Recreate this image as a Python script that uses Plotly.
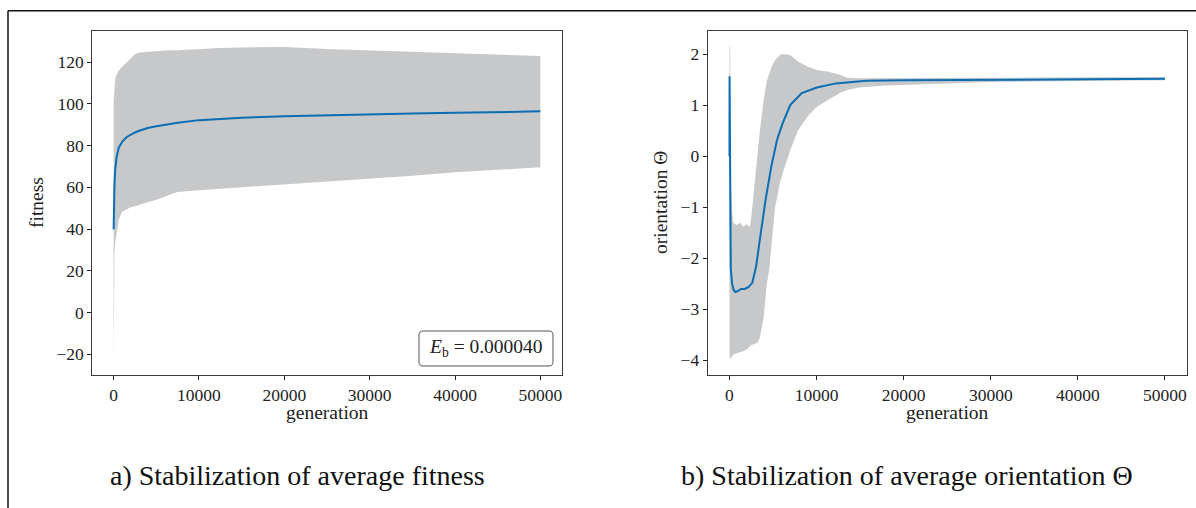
import plotly.graph_objects as go

W, H = 1196, 508

# ---------------- data (a) fitness ----------------
fit_gen = [0, 30, 100, 200, 350, 600, 1000, 1500, 2000, 2500, 3000, 4000, 5000, 6000,
           7500, 10000, 12500, 15000, 20000, 25000, 30000, 35000, 40000, 45000, 50000]
fit_mean = [39.9, 50, 62, 69, 74.5, 79, 81.8, 84, 85.3, 86.3, 87.1, 88.4, 89.3, 90,
            91, 92.2, 92.9, 93.4, 94.1, 94.6, 95, 95.4, 95.7, 96.1, 96.4]
fit_upper = [101, 104, 109, 112.5, 114, 116, 117.8, 119.7, 121.8, 123.8, 124.6, 125, 125.4, 125.5,
             125.7, 126.3, 126.8, 127, 127.2, 126.3, 125.6, 125, 124.4, 123.6, 122.9]
fit_lower = [-22.5, 5, 28, 34, 39, 44.6, 48.3, 49.5, 50.5, 51, 51.5, 52.8, 54, 55.5,
             57.8, 58.6, 59.3, 60, 61.4, 62.6, 64, 65.6, 67.2, 68.5, 69.6]

# ---------------- data (b) orientation ----------------
ori_gen = [0, 10, 150, 300, 500, 700, 1000, 1300, 1750, 2200, 2620, 3060, 3490, 4150, 4800,
           5460, 6110, 6990, 8300, 10040, 12220, 15700, 20070, 28800, 40000, 50000]
ori_mean = [0.0, 1.57, -2.2, -2.5, -2.63, -2.66, -2.64, -2.6, -2.6, -2.56, -2.48, -2.16, -1.63,
            -0.85, -0.2, 0.32, 0.65, 1.01, 1.24, 1.35, 1.43, 1.48, 1.49, 1.50, 1.51, 1.52]
band_gen = [0, 80, 150, 300, 450, 800, 1200, 1600, 2000, 2350, 2500, 2840, 3200, 3490, 3930,
            4250, 4580, 4900, 5240, 5890, 6550, 7000, 7860, 8950, 10040, 11350, 12660, 13530,
            14850, 17900, 24400, 31000, 41900, 50000]
band_upper = [2.15, 2.15, -0.5, -1.1, -1.3, -1.35, -1.3, -1.38, -1.33, -1.38, -1.2, -0.6, 0.0,
              0.5, 1.1, 1.45, 1.63, 1.78, 1.89, 2.0, 2.0, 1.98, 1.86, 1.76, 1.69, 1.66, 1.6,
              1.54, 1.53, 1.53, 1.54, 1.54, 1.55, 1.55]
band_lower = [-3.9, -3.98, -3.98, -3.92, -3.88, -3.86, -3.84, -3.82, -3.78, -3.72, -3.7, -3.68,
              -3.66, -3.55, -3.15, -2.55, -2.2, -1.6, -1.0, -0.45, -0.1, 0.13, 0.5, 0.78, 0.97,
              1.1, 1.24, 1.3, 1.35, 1.39, 1.43, 1.46, 1.48, 1.49]

x_ticks = [0, 10000, 20000, 30000, 40000, 50000]
x_tick_labels = ["0", "10000", "20000", "30000", "40000", "50000"]
fit_ticks = [-20, 0, 20, 40, 60, 80, 100, 120]
fit_tick_labels = ["−20", "0", "20", "40", "60", "80", "100", "120"]
ori_ticks = [-4, -3, -2, -1, 0, 1, 2]
ori_tick_labels = ["−4", "−3", "−2", "−1", "0", "1", "2"]

BAND = "#c7c8ca"
LINE = "#0b6db3"
FONT = "Liberation Serif"

fig = go.Figure()
# (a)
fig.add_trace(go.Scatter(x=fit_gen, y=fit_lower, mode="lines", line=dict(width=0, color=BAND),
                         showlegend=False, hoverinfo="skip", xaxis="x", yaxis="y"))
fig.add_trace(go.Scatter(x=fit_gen, y=fit_upper, mode="lines", line=dict(width=0, color=BAND),
                         fill="tonexty", fillcolor=BAND, showlegend=False, xaxis="x", yaxis="y"))
fig.add_trace(go.Scatter(x=fit_gen, y=fit_mean, mode="lines", line=dict(width=2, color=LINE),
                         showlegend=False, xaxis="x", yaxis="y"))
# (b)
fig.add_trace(go.Scatter(x=band_gen, y=band_lower, mode="lines", line=dict(width=0, color=BAND),
                         showlegend=False, hoverinfo="skip", xaxis="x2", yaxis="y2"))
fig.add_trace(go.Scatter(x=band_gen, y=band_upper, mode="lines", line=dict(width=0, color=BAND),
                         fill="tonexty", fillcolor=BAND, showlegend=False, xaxis="x2", yaxis="y2"))
fig.add_trace(go.Scatter(x=ori_gen, y=ori_mean, mode="lines", line=dict(width=2, color=LINE),
                         showlegend=False, xaxis="x2", yaxis="y2"))

def px_x(p):
    return p / W

def px_y(p):
    return 1 - p / H

axis_common = dict(showgrid=False, zeroline=False, showline=True, mirror=True,
                   linecolor="#3a3a3a", linewidth=1, ticks="outside", ticklen=4,
                   tickcolor="#222", tickwidth=1,
                   tickfont=dict(family=FONT, size=17.5, color="#222"))

fig.update_layout(
    width=W, height=H, margin=dict(l=0, r=0, t=0, b=0),
    paper_bgcolor="white", plot_bgcolor="white",
    xaxis=dict(domain=[px_x(92.3), px_x(561.7)], range=[-2500, 52500], tickvals=x_ticks,
               ticktext=x_tick_labels, anchor="y", **axis_common),
    yaxis=dict(domain=[px_y(375), px_y(31)], range=[-29.9, 134.9], tickvals=fit_ticks,
               ticktext=fit_tick_labels, anchor="x", **axis_common),
    xaxis2=dict(domain=[px_x(707.7), px_x(1186.7)], range=[-2500, 52500], tickvals=x_ticks,
                ticktext=x_tick_labels, anchor="y2", **axis_common),
    yaxis2=dict(domain=[px_y(375), px_y(31)], range=[-4.287, 2.457], tickvals=ori_ticks,
                ticktext=ori_tick_labels, anchor="x2", **axis_common),
)

shapes = [
    # outer frame (left and top edges visible)
    dict(type="line", xref="paper", yref="paper", x0=px_x(8), x1=px_x(8), y0=0, y1=px_y(10.7),
         line=dict(color="#111", width=1.5)),
    dict(type="line", xref="paper", yref="paper", x0=px_x(8), x1=1, y0=px_y(10.7), y1=px_y(10.7),
         line=dict(color="#111", width=1.5)),
]

# rounded box for the E_b label
bx0, bx1, by0, by1, r = 419, 553, 331, 366, 4
def P(x, y):
    return f"{px_x(x):.6f},{px_y(y):.6f}"
path = (f"M {P(bx0 + r, by0)} L {P(bx1 - r, by0)} Q {P(bx1, by0)} {P(bx1, by0 + r)} "
        f"L {P(bx1, by1 - r)} Q {P(bx1, by1)} {P(bx1 - r, by1)} "
        f"L {P(bx0 + r, by1)} Q {P(bx0, by1)} {P(bx0, by1 - r)} "
        f"L {P(bx0, by0 + r)} Q {P(bx0, by0)} {P(bx0 + r, by0)} Z")
shapes.append(dict(type="path", xref="paper", yref="paper", path=path,
                   line=dict(color="#555", width=1), fillcolor="rgba(255,255,255,0.8)"))
fig.update_layout(shapes=shapes)

lab_font = dict(family=FONT, size=19.5, color="#222")
annotations = [
    dict(text="<i>E</i><sub>b</sub> = 0.000040", x=px_x((bx0 + bx1) / 2), y=px_y((by0 + by1) / 2 - 1),
         xref="paper", yref="paper", showarrow=False, font=dict(family=FONT, size=19.5, color="#222"),
         xanchor="center", yanchor="middle"),
    dict(text="generation", x=px_x(327), y=px_y(412), xref="paper", yref="paper", showarrow=False,
         font=lab_font, xanchor="center", yanchor="middle"),
    dict(text="generation", x=px_x(947), y=px_y(412), xref="paper", yref="paper", showarrow=False,
         font=lab_font, xanchor="center", yanchor="middle"),
    dict(text="fitness", x=px_x(37), y=px_y(203), xref="paper", yref="paper", showarrow=False,
         font=lab_font, textangle=-90, xanchor="center", yanchor="middle"),
    dict(text="orientation Θ", x=px_x(661), y=px_y(203), xref="paper", yref="paper", showarrow=False,
         font=lab_font, textangle=-90, xanchor="center", yanchor="middle"),
    dict(text="a) Stabilization of average fitness", x=px_x(297), y=px_y(475), xref="paper",
         yref="paper", showarrow=False, font=dict(family=FONT, size=28, color="#111"),
         xanchor="center", yanchor="middle"),
    dict(text="b) Stabilization of average orientation Θ", x=px_x(907), y=px_y(475), xref="paper",
         yref="paper", showarrow=False, font=dict(family=FONT, size=28, color="#111"),
         xanchor="center", yanchor="middle"),
]
fig.update_layout(annotations=annotations)

fig.write_html("out.html")
